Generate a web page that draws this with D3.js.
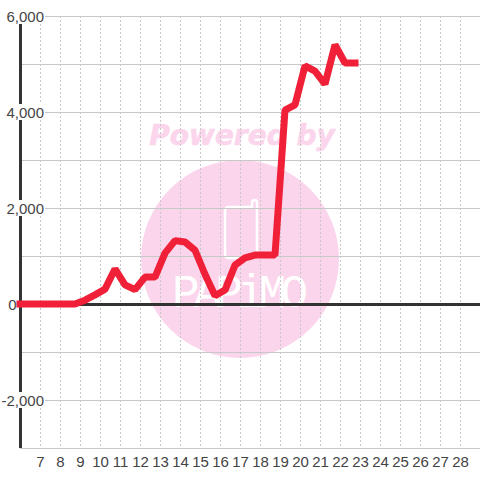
<!DOCTYPE html>
<html>
<head>
<meta charset="utf-8">
<script src="https://cdn.jsdelivr.net/npm/d3@7"></script>
<style>
html, body { margin: 0; padding: 0; background: #fff; }
svg { display: block; }
text { font-family: "Liberation Sans", sans-serif; }
</style>
</head>
<body>
<script>
//values, half a day apart after the first point
var days = [6, 6.25, 6.75, 7.25, 7.75, 8.25, 8.75, 9.25, 9.75, 10.25, 10.75, 11.25, 11.75, 12.25, 12.75, 13.25, 13.75, 14.25, 14.75, 15.25, 15.75, 16.25, 16.75, 17.25, 17.75, 18.25, 18.75, 19.25, 19.75, 20.25, 20.75, 21.25, 21.75, 22.25, 22.75];
var values = [0, 0, 0, 0, 0, 0, 0, 80, 190, 310, 730, 400, 300, 560, 560, 1060, 1320, 1290, 1120, 620, 170, 290, 810, 960, 1020, 1020, 1020, 4040, 4150, 4960, 4850, 4580, 5400, 5020, 5020];
var xTicks = [7, 8, 9, 10, 11, 12, 13, 14, 15, 16, 17, 18, 19, 20, 21, 22, 23, 24, 25, 26, 27, 28];
var yTicks = [-3000, -2000, -1000, 0, 1000, 2000, 3000, 4000, 5000, 6000];
var yLabelled = [-2000, 2000, 4000, 6000];
var zeroLabel = [0];

var width = 480,
    height = 480;

var svg = d3.select("body")
    .append("svg")
    .attr("width", width)
    .attr("height", height);

var x = d3.scaleLinear().domain([6, 29]).range([20, 480]);
var y = d3.scaleLinear().domain([-3000, 6000]).range([448, 16]);

//plain hyphen for negatives, like the reference
var fmt = function(d){ return d3.format(",")(d).replace("\u2212", "-"); };

//watermark sits under the grid
var mark = svg.append("g").attr("class", "watermark");
mark.append("circle")
    .attr("cx", 240).attr("cy", 259).attr("r", 99)
    .attr("fill", "#fbd5ec");
mark.append("text")
    .attr("x", 242).attr("y", 145)
    .attr("text-anchor", "middle")
    .attr("font-size", 28)
    .attr("font-weight", "bold")
    .attr("font-style", "italic")
    .attr("fill", "#fbd5ec")
    .attr("stroke", "#fbd5ec")
    .attr("stroke-width", 0.6)
    .style("font-family", "'DejaVu Sans'")
    .text("Powered by");
mark.append("path")
    .attr("d", "M228 207H252V203Q252 200 254.5 200Q257 200 257 203V254Q257 258 253 258H229Q225 258 225 254V211Q225 207 229 207Z")
    .attr("fill", "none")
    .attr("stroke", "#fff")
    .attr("stroke-width", 2.5);
mark.append("text")
    .attr("x", 172).attr("y", 307)
    .attr("font-size", 46)
    .attr("fill", "#fff")
    .attr("textLength", 136)
    .attr("lengthAdjust", "spacing")
    .style("font-family", "'Liberation Mono'")
    .text("PAPiMO");

//grid
svg.append("g").selectAll("line")
    .data(yTicks)
    .enter()
    .append("line")
    .attr("x1", 20).attr("x2", 480)
    .attr("y1", function(d){ return Math.round(y(d)) + 0.5; })
    .attr("y2", function(d){ return Math.round(y(d)) + 0.5; })
    .attr("stroke", "#c8c8c8");

svg.append("g").selectAll("line")
    .data(xTicks)
    .enter()
    .append("line")
    .attr("x1", function(d){ return x(d) + 0.5; })
    .attr("x2", function(d){ return x(d) + 0.5; })
    .attr("y1", 16).attr("y2", 448)
    .attr("stroke", "#c8c8c8")
    .attr("stroke-dasharray", "2,2");

//axis lines
svg.append("line")
    .attr("x1", 20).attr("x2", 480)
    .attr("y1", y(0) + 0.5).attr("y2", y(0) + 0.5)
    .attr("stroke", "#333")
    .attr("stroke-width", 3);
svg.append("line")
    .attr("x1", 20.5).attr("x2", 20.5)
    .attr("y1", 16).attr("y2", 448)
    .attr("stroke", "#333")
    .attr("stroke-width", 3);

//series
var line = d3.line()
    .x(function(d, i){ return x(days[i]); })
    .y(function(d){ return y(d); });

svg.append("path")
    .datum(values)
    .attr("d", line)
    .attr("fill", "none")
    .attr("stroke", "#f02038")
    .attr("stroke-width", 7)
    .attr("stroke-linecap", "square")
    .attr("stroke-linejoin", "bevel");

//tick labels, white box behind each one breaks the axis and grid
svg.append("g").selectAll("rect")
    .data(yLabelled)
    .enter()
    .append("rect")
    .attr("x", 4).attr("width", 41)
    .attr("y", function(d){ return y(d) - 8; })
    .attr("height", 16)
    .attr("fill", "#fff");

svg.append("g").selectAll("text")
    .data(yLabelled)
    .enter()
    .append("text")
    .attr("x", 44)
    .attr("y", function(d){ return y(d) + 5.5; })
    .attr("text-anchor", "end")
    .attr("font-size", 15)
    .attr("fill", "#444")
    .text(fmt);

svg.append("g").selectAll("text")
    .data(zeroLabel)
    .enter()
    .append("text")
    .attr("x", 16.5)
    .attr("y", function(d){ return y(d) + 5.5; })
    .attr("text-anchor", "end")
    .attr("font-size", 15)
    .attr("fill", "#444")
    .text(fmt);

svg.append("g").selectAll("text")
    .data(xTicks)
    .enter()
    .append("text")
    .attr("x", function(d){ return x(d) + 0.5; })
    .attr("y", 466.5)
    .attr("text-anchor", "middle")
    .attr("font-size", 15)
    .attr("fill", "#444")
    .text(function(d){ return d; });
</script>
</body>
</html>
